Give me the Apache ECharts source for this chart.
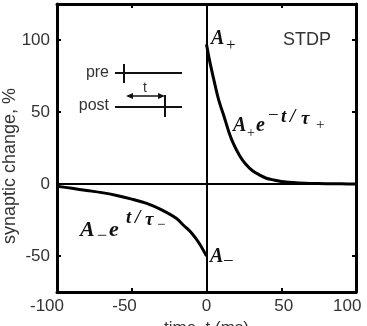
<!DOCTYPE html>
<html>
<head>
<meta charset="utf-8">
<title>STDP</title>
<script src="https://cdn.jsdelivr.net/npm/echarts@6/dist/echarts.min.js"></script>
<style>
  html, body { margin: 0; padding: 0; background: #fff; }
  #chart { width: 367px; height: 326px; }
</style>
</head>
<body>
<div id="chart"></div>
<script>
// potentiation branch, t >= 0 (ms, %)
var posTime = [0, 2, 5, 8, 12, 15, 18, 22, 26, 31, 36, 40, 45, 50, 60, 70, 80, 90, 100];
var posChange = [97, 86, 72, 59, 46, 36, 28, 20, 14, 9, 6, 4, 2.8, 1.8, 0.8, 0.4, 0.2, 0.1, 0];
// depression branch, t <= 0
var negTime = [-100, -90, -80, -70, -60, -50, -40, -30, -20, -15, -10, -5, 0];
var negChange = [-1.5, -3, -4.5, -6, -8, -10.5, -13.5, -18, -24, -29, -34, -41, -50];
// tick labels
var xTicks = [-100, -50, 0, 50, 100];
var yTicks = [-50, 0, 50, 100];

var labelFont = 'Liberation Sans';
var mathFont = '"Liberation Serif", "DejaVu Serif", serif';
var ink = '#000';
var textColor = '#333';

function pairs(xs, ys) {
  return xs.map(function (x, i) { return [x, ys[i]]; });
}

// the source figure's x labels sit a little off their ticks
var xLabelStyle = {
  '-100': 'a',
  '-50': 'b',
  '0': 'c',
  '50': 'd',
  '100': 'e'
};
function lbl(extra) {
  return Object.assign({ fontFamily: labelFont, fontSize: 17, color: textColor }, extra);
}

var chart = echarts.init(document.getElementById('chart'));

var axisLine = { show: true, onZero: false, lineStyle: { color: ink, width: 3 } };
var tickIn = { show: true, inside: true, length: 4, lineStyle: { color: ink, width: 2 } };

function mathText(str, x, y, size, bold) {
  return {
    type: 'text',
    x: x,
    y: y,
    silent: true,
    style: {
      text: str,
      font: (bold ? 'italic bold ' : '') + size + 'px ' + mathFont,
      fill: '#111',
      align: 'left',
      verticalAlign: 'middle'
    }
  };
}

function seg(x1, y1, x2, y2, w) {
  return {
    type: 'line',
    silent: true,
    shape: { x1: x1, y1: y1, x2: x2, y2: y2 },
    style: { stroke: '#111', lineWidth: w }
  };
}

var option = {
  animation: false,
  backgroundColor: '#fff',
  grid: { left: 57, right: 11, top: 4, bottom: 34, outerBoundsMode: 'none', containLabel: false },
  xAxis: [
    {
      type: 'value',
      position: 'bottom',
      min: -100,
      max: 100,
      interval: 50,
      name: 'time, t (ms)',
      nameLocation: 'middle',
      nameGap: 26,
      nameTextStyle: { fontFamily: labelFont, fontSize: 17, color: textColor },
      axisLine: axisLine,
      axisTick: tickIn,
      splitLine: { show: false },
      axisLabel: {
        margin: 6,
        fontFamily: labelFont,
        fontSize: 17,
        color: textColor,
        formatter: function (v) {
          var key = xLabelStyle[String(v)] || 'c';
          return '{' + key + '|' + v + '}';
        },
        rich: {
          a: lbl({ width: 54, align: 'left' }),
          b: lbl({ width: 39, align: 'left' }),
          c: lbl({}),
          d: lbl({ width: 24, align: 'right' }),
          e: lbl({ width: 46, align: 'left' })
        }
      }
    },
    {
      type: 'value',
      position: 'top',
      min: -100,
      max: 100,
      interval: 50,
      axisLine: axisLine,
      axisTick: tickIn,
      axisLabel: { show: false },
      splitLine: { show: false }
    }
  ],
  yAxis: [
    {
      type: 'value',
      position: 'left',
      min: -75,
      max: 125,
      interval: 25,
      name: 'synaptic change, %',
      nameLocation: 'middle',
      nameGap: 38,
      nameMoveOverlap: false,
      nameTextStyle: {
        fontFamily: labelFont,
        fontSize: 18,
        color: textColor,
        padding: [0, 36, 0, 0]
      },
      axisLine: axisLine,
      axisTick: Object.assign({}, tickIn, { customValues: yTicks }),
      splitLine: { show: false },
      axisLabel: {
        customValues: yTicks,
        margin: 7,
        fontFamily: labelFont,
        fontSize: 17,
        color: textColor,
        padding: [4, 0, 0, 0]
      }
    },
    {
      type: 'value',
      position: 'right',
      min: -75,
      max: 125,
      interval: 25,
      axisLine: axisLine,
      axisTick: Object.assign({}, tickIn, { customValues: yTicks }),
      axisLabel: { show: false },
      splitLine: { show: false }
    }
  ],
  series: [
    {
      name: 'LTP',
      type: 'line',
      data: pairs(posTime, posChange),
      smooth: 0.3,
      symbol: 'none',
      lineStyle: { color: ink, width: 3 },
      markLine: {
        silent: true,
        symbol: 'none',
        label: { show: false },
        lineStyle: { color: ink, width: 2, type: 'solid' },
        data: [{ xAxis: 0 }, { yAxis: 0 }]
      },
      z: 3
    },
    {
      name: 'LTD',
      type: 'line',
      data: pairs(negTime, negChange),
      smooth: 0.3,
      symbol: 'none',
      lineStyle: { color: ink, width: 3 },
      z: 3
    }
  ],
  graphic: [
    // A+ at the jump
    mathText('A', 211, 39, 20, true),
    mathText('+', 226, 46, 17, false),
    {
      type: 'text',
      x: 283,
      y: 40,
      silent: true,
      style: {
        text: 'STDP',
        font: '18px ' + labelFont,
        fill: textColor,
        align: 'left',
        verticalAlign: 'middle'
      }
    },
    // A+ e^{-t/tau+}
    mathText('A', 233, 126, 20, true),
    mathText('+', 247, 133, 14, false),
    mathText('e', 256, 126, 20, true),
    mathText('\u2212', 268, 116, 19, false),
    mathText('t', 281, 117, 19, true),
    mathText('/', 290, 117, 19, true),
    mathText('\u03c4', 301, 119, 19, true),
    mathText('+', 316, 125, 15, false),
    // A- e^{t/tau-}
    mathText('A', 80, 230, 22, true),
    mathText('\u2212', 97, 236, 18, false),
    mathText('e', 109, 230, 22, true),
    mathText('t', 126, 218, 19, true),
    mathText('/', 135, 218, 19, true),
    mathText('\u03c4', 145, 220, 19, true),
    mathText('\u2212', 157, 225, 15, false),
    // A- at the jump
    mathText('A', 210, 257, 20, true),
    mathText('\u2212', 223, 262, 19, false),
    // pre / post inset
    {
      type: 'text',
      x: 109,
      y: 73,
      silent: true,
      style: { text: 'pre', font: '16px ' + labelFont, fill: textColor, align: 'right', verticalAlign: 'middle' }
    },
    {
      type: 'text',
      x: 109,
      y: 106,
      silent: true,
      style: { text: 'post', font: '16px ' + labelFont, fill: textColor, align: 'right', verticalAlign: 'middle' }
    },
    seg(115, 73, 182, 73, 2),
    seg(124, 64, 124, 83, 2),
    seg(115, 107, 182, 107, 2),
    seg(165, 95, 165, 117, 2),
    seg(130, 96, 161, 96, 1.5),
    {
      type: 'polygon',
      silent: true,
      shape: { points: [[126, 96], [133, 93], [133, 99]] },
      style: { fill: '#111' }
    },
    {
      type: 'polygon',
      silent: true,
      shape: { points: [[165, 96], [158, 93], [158, 99]] },
      style: { fill: '#111' }
    },
    {
      type: 'text',
      x: 145,
      y: 88,
      silent: true,
      style: { text: 't', font: '14px ' + labelFont, fill: textColor, align: 'center', verticalAlign: 'middle' }
    }
  ]
};

chart.setOption(option);
</script>
</body>
</html>
